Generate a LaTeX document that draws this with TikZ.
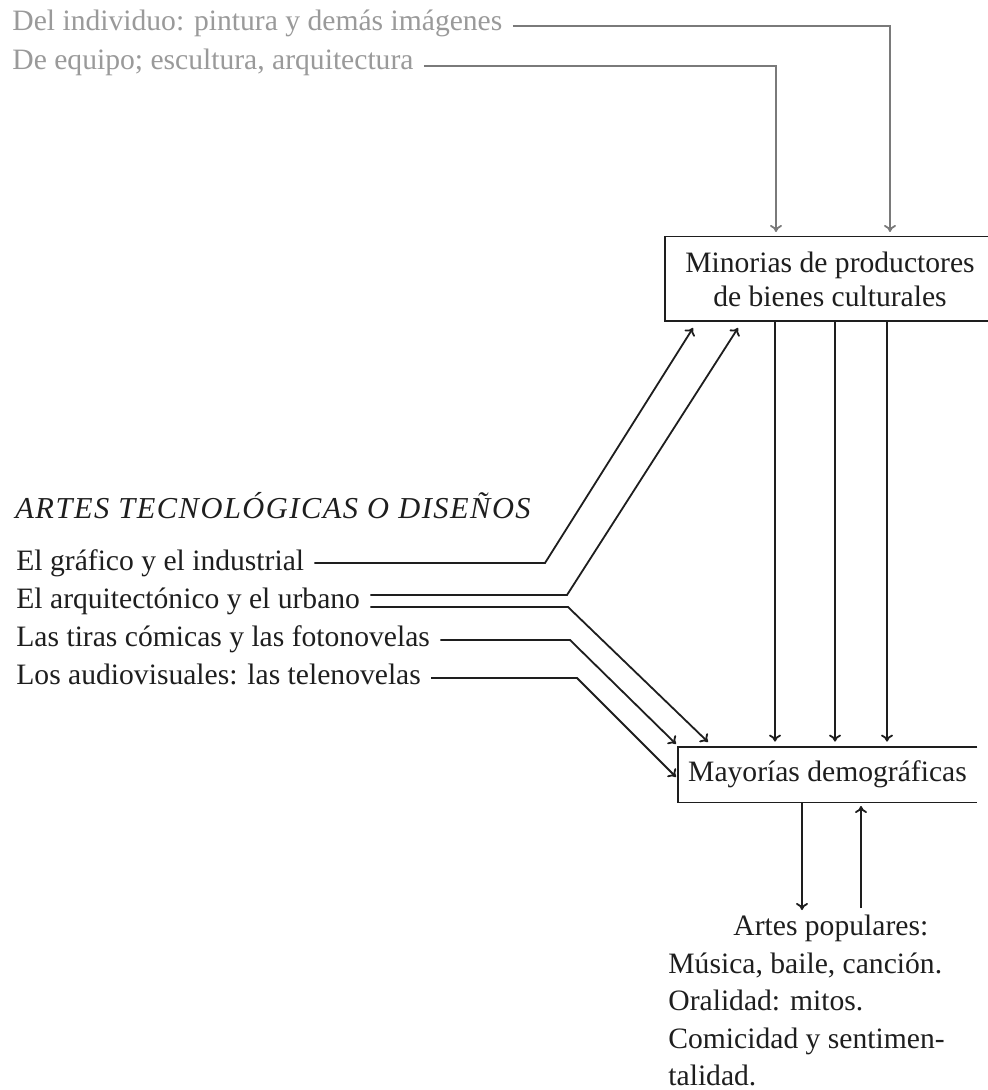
\documentclass[tikz,border=0pt]{standalone}
\usepackage{fontspec}
\setmainfont{Liberation Serif}
\usetikzlibrary{arrows.meta,calc}
\definecolor{ink}{HTML}{1E1E1E}
\definecolor{faded}{HTML}{9A9A9A}
\definecolor{fadedline}{HTML}{7A7A7A}
\begin{document}
\begin{tikzpicture}[x=0.5pt,y=-0.5pt,
  txt/.style={anchor=base west,inner sep=0pt,text=ink,font=\fontsize{14.8}{19}\selectfont},
  toptxt/.style={txt,text=faded},
  boxtxt/.style={inner sep=0pt,text=ink,align=center,font=\fontsize{14.8}{17}\selectfont},
  conn/.style={draw=ink,line width=0.9pt,-{To[length=3.5pt,width=6pt]}},
  topconn/.style={conn,draw=fadedline},
  side/.style={draw=ink,line width=0.9pt}
]
\useasboundingbox (0,0) rectangle (988,1090);
\fill[white] (0,0) rectangle (988,1090);

% top texts
\node[toptxt] (t1) at (12,31) {Del individuo: pintura y demás imágenes};
\node[toptxt] (t2) at (12,70) {De equipo; escultura, arquitectura};

% boxes
\node[boxtxt,minimum width=165pt,minimum height=42pt] (b1) at (830,279) {Minorias de productores\\de bienes culturales};
\node[boxtxt,minimum width=149.5pt,minimum height=27.5pt] (b2) at (827.5,774.5) {Mayorías demográficas};
\draw[side] (b1.north east) -- (b1.north west) -- (b1.south west) -- (b1.south east);
\draw[side] (b2.north east) -- (b2.north west) -- (b2.south west) -- (b2.south east);

% left texts
\node[txt,font=\fontsize{15.2}{19}\selectfont\itshape\addfontfeature{LetterSpace=5}] (h) at (15,518) {ARTES TECNOLÓGICAS O DISEÑOS};
\node[txt] (g) at (16,570) {El gráfico y el industrial};
\node[txt] (a) at (16,608) {El arquitectónico y el urbano};
\node[txt] (t) at (16,646) {Las tiras cómicas y las fotonovelas};
\node[txt] (v) at (16,684) {Los audiovisuales: las telenovelas};

% bottom texts
\node[txt] (p0) at (733,935) {Artes populares:};
\node[txt] (p1) at (668,973) {Música, baile, canción.};
\node[txt] (p2) at (668,1010) {Oralidad: mitos.};
\node[txt] (p3) at (668,1048) {Comicidad y sentimen-};
\node[txt] (p4) at (668,1085) {talidad.};

% coordinates
\coordinate (in1) at (890,232);
\coordinate (in2) at (776,232);
\coordinate (x1) at (775,0);
\coordinate (x2) at (835,0);
\coordinate (x3) at (887,0);
\coordinate (gb) at (545,0);
\coordinate (aub) at (567,0);
\coordinate (alb) at (568,0);
\coordinate (tb) at (570,0);
\coordinate (vb) at (577,0);
\coordinate (tipg) at (693,328);
\coordinate (tipau) at (738,328);
\coordinate (tipal) at (708,742);
\coordinate (tipt) at (676,744);
\coordinate (tipv) at (676,777);
\coordinate (dntip) at (802,910);
\coordinate (uptail) at (861,908);
\coordinate (uptip) at (861,806);

% top connectors
\draw[topconn] ([xshift=5pt,yshift=2.5pt]t1.base east) -| (in1);
\draw[topconn] ([xshift=5pt,yshift=2pt]t2.base east) -| (in2);

% box1 -> box2
\foreach \c in {x1,x2,x3}
  \draw[conn] (b1.south -| \c) -- ([yshift=2.5pt]b2.north -| \c);

% left connectors
\draw[conn] ([xshift=5pt,yshift=3.5pt]g.base east) coordinate (sg) -- (sg -| gb) -- (tipg);
\draw[conn] ([xshift=5pt,yshift=6.5pt]a.base east) coordinate (sau) -- (sau -| aub) -- (tipau);
\draw[conn] ([xshift=5pt,yshift=0.5pt]a.base east) coordinate (sal) -- (sal -| alb) -- (tipal);
\draw[conn] ([xshift=5pt,yshift=3pt]t.base east) coordinate (st) -- (st -| tb) -- (tipt);
\draw[conn] ([xshift=5pt,yshift=3pt]v.base east) coordinate (sv) -- (sv -| vb) -- (tipv);

% bottom arrows
\draw[conn] (b2.south -| dntip) -- (dntip);
\draw[conn] (uptail) -- (uptip);
\end{tikzpicture}
\end{document}
